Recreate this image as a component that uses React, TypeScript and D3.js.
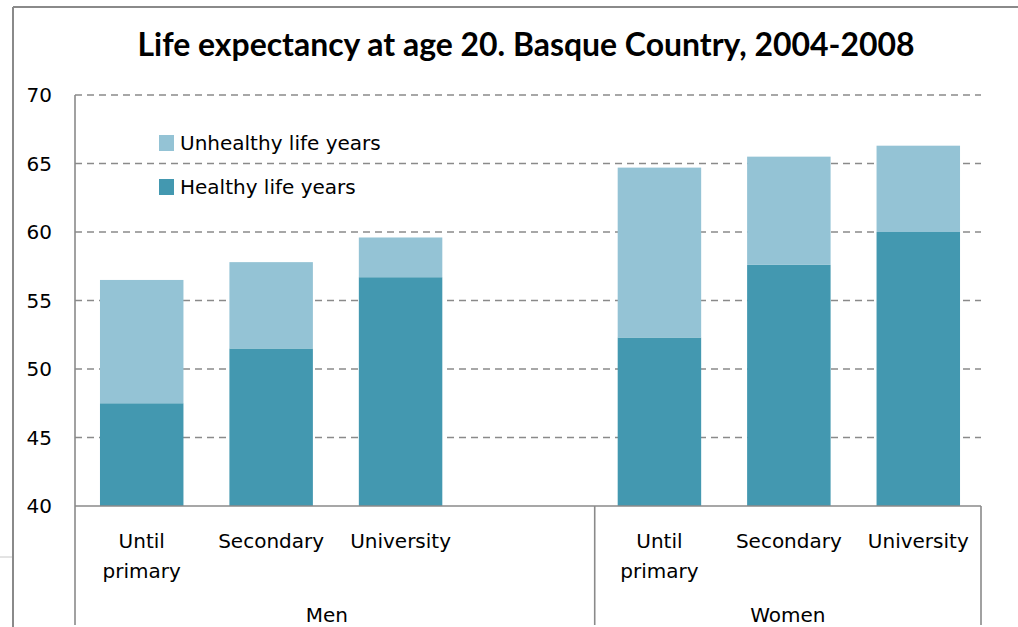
import React from 'react';
import * as d3 from 'd3';

const groups = ['Men', 'Women'];
const levels = ['Until primary', 'Secondary', 'University'];
const healthyMen = [47.5, 51.5, 56.7];
const unhealthyMen = [9.0, 6.3, 2.9];
const healthyWomen = [52.3, 57.6, 60.0];
const unhealthyWomen = [12.4, 7.9, 6.3];
const yTicks = [40, 45, 50, 55, 60, 65, 70];
const seriesNames = ['Healthy life years', 'Unhealthy life years'];

const W = 1018;
const H = 627;
const margin = { left: 75, right: 37, top: 95, bottom: 121 };
const colors = { healthy: '#4398b0', unhealthy: '#94c3d5' };
const gridColor = '#8a8a8a';
const font = '"DejaVu Sans", Verdana, sans-serif';

// one row per bar, plus an empty slot after the men's group
const rows = [
  ...levels.map((l, i) => ({ key: `Men|${i}`, group: 'Men', level: l, healthy: healthyMen[i], unhealthy: unhealthyMen[i] })),
  { key: 'Men|gap', group: 'Men', level: '', healthy: 0, unhealthy: 0 },
  ...levels.map((l, i) => ({ key: `Women|${i}`, group: 'Women', level: l, healthy: healthyWomen[i], unhealthy: unhealthyWomen[i] })),
];

export default function App() {
  const x0 = margin.left;
  const x1 = W - margin.right;
  const x = d3
    .scaleBand()
    .domain(rows.map((r) => r.key))
    .range([x0 + 2, x1 + 2])
    .paddingInner(0.355)
    .paddingOuter(0.1775);
  const y = d3.scaleLinear().domain([40, 70]).range([H - margin.bottom, margin.top]);

  const stack = d3.stack<any>().keys(['healthy', 'unhealthy']);
  const stacked = stack(rows.filter((r) => r.level !== ''));

  const step = x.step();
  const yBase = y(40);
  const sepX = (x('Women|0') as number) - (step - x.bandwidth()) / 2;

  const groupCenter = (g: string) => (g === 'Men' ? (x0 + sepX) / 2 - 8 : (sepX + x1) / 2);

  return (
    <svg width={W} height={H} style={{ position: 'absolute', top: 0, left: 0, background: '#fff' }}>
      {/* outer frame */}
      <line x1={13} y1={7} x2={W} y2={7} stroke="#8a8a8a" strokeWidth={2} />
      <line x1={13} y1={7} x2={13} y2={H} stroke="#8a8a8a" strokeWidth={2} />
      <line x1={0} y1={557} x2={12} y2={557} stroke="#c8c8c8" strokeWidth={1} />

      <text
        x={526}
        y={56}
        textAnchor="middle"
        fontFamily="Lato, 'Open Sans', sans-serif"
        fontWeight="bold"
        fontSize={32}
        textLength={777}
        lengthAdjust="spacingAndGlyphs"
        fill="#000"
      >
        Life expectancy at age 20. Basque Country, 2004-2008
      </text>

      {/* gridlines */}
      {yTicks
        .filter((t) => t !== 40)
        .map((t) => (
          <line key={t} x1={x0} x2={x1} y1={y(t)} y2={y(t)} stroke={gridColor} strokeWidth={1.6} strokeDasharray="7,5" />
        ))}

      {/* y tick labels */}
      {yTicks.map((t) => (
        <text key={t} x={52} y={y(t)} dy="0.36em" textAnchor="end" fontFamily={font} fontSize={20} fill="#000">
          {t}
        </text>
      ))}

      {/* bars */}
      {stacked.map((s) => (
        <g key={s.key} fill={colors[s.key as 'healthy' | 'unhealthy']}>
          {s.map((d) => (
            <rect
              key={d.data.key}
              x={x(d.data.key)}
              width={x.bandwidth()}
              y={y(Math.max(d[1], 40))}
              height={y(Math.max(d[0], 40)) - y(Math.max(d[1], 40))}
            />
          ))}
        </g>
      ))}

      {/* axes */}
      <line x1={x0} x2={x0} y1={margin.top} y2={625} stroke={gridColor} strokeWidth={1.6} />
      <line x1={x0} x2={x1} y1={yBase} y2={yBase} stroke={gridColor} strokeWidth={1.6} />
      <line x1={sepX} x2={sepX} y1={yBase} y2={625} stroke={gridColor} strokeWidth={1.6} />
      <line x1={x1} x2={x1} y1={yBase} y2={625} stroke={gridColor} strokeWidth={1.6} />

      {/* category labels */}
      {rows
        .filter((r) => r.level !== '')
        .map((r) => (
          <text
            key={r.key}
            x={(x(r.key) as number) + x.bandwidth() / 2}
            y={548}
            textAnchor="middle"
            fontFamily={font}
            fontSize={20}
            fill="#000"
          >
            {r.level.split(' ').map((w, i) => (
              <tspan key={i} x={(x(r.key) as number) + x.bandwidth() / 2} dy={i === 0 ? 0 : 30}>
                {w}
              </tspan>
            ))}
          </text>
        ))}
      {groups.map((g) => (
        <text key={g} x={groupCenter(g)} y={622} textAnchor="middle" fontFamily={font} fontSize={20} fill="#000">
          {g}
        </text>
      ))}

      {/* legend */}
      {[seriesNames[1], seriesNames[0]].map((n, i) => (
        <g key={n} transform={`translate(159,${135 + i * 44})`}>
          <rect width={15} height={16} fill={i === 0 ? colors.unhealthy : colors.healthy} />
          <text x={21} y={8} dy="0.36em" fontFamily={font} fontSize={20} fill="#000">
            {n}
          </text>
        </g>
      ))}
    </svg>
  );
}
